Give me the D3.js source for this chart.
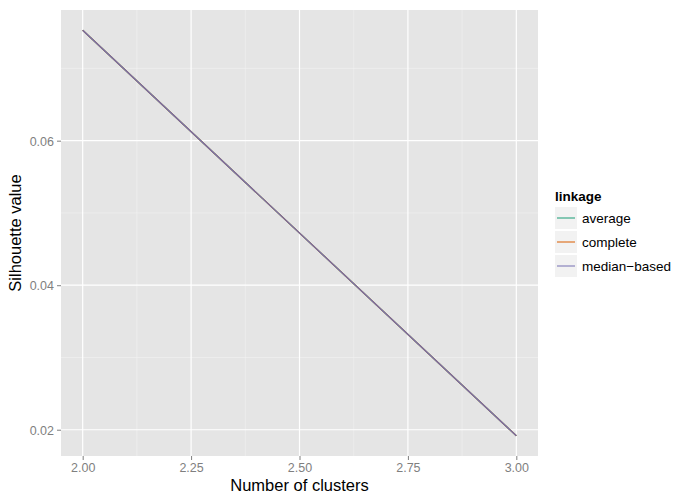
<!DOCTYPE html>
<html>
<head>
<meta charset="utf-8">
<script src="https://cdn.jsdelivr.net/npm/d3@7"></script>
<style>
  body { margin: 0; background: #fff; }
  text { font-family: "Liberation Sans", Arial, sans-serif; }
</style>
</head>
<body>
<svg width="700" height="500"></svg>
<script>
// data
const clusters = [2, 3];
const linkages = ["average", "complete", "median\u2212based"];
const silhouette = {
  "average": [0.07528, 0.01917],
  "complete": [0.07528, 0.01917],
  "median\u2212based": [0.07528, 0.01917]
};
const colors = ["#1B9E77", "#D95F02", "#7570B3"];
const xTicks = [2.00, 2.25, 2.50, 2.75, 3.00];
const yTicks = [0.02, 0.04, 0.06];

const svg = d3.select("svg");
const panel = {left: 61, top: 10, right: 538, bottom: 456};

// ggplot style 5% expansion
const xExt = d3.extent(clusters);
const yAll = linkages.flatMap(k => silhouette[k]);
const yExt = d3.extent(yAll);
const xPad = (xExt[1] - xExt[0]) * 0.05;
const yPad = (yExt[1] - yExt[0]) * 0.05;

const x = d3.scaleLinear().domain([xExt[0] - xPad, xExt[1] + xPad]).range([panel.left, panel.right]);
const y = d3.scaleLinear().domain([yExt[0] - yPad, yExt[1] + yPad]).range([panel.bottom, panel.top]);

// panel background
svg.append("rect")
  .attr("x", panel.left).attr("y", panel.top)
  .attr("width", panel.right - panel.left)
  .attr("height", panel.bottom - panel.top)
  .attr("fill", "#E5E5E5");

// minor grid
const xMinor = d3.range(xTicks.length - 1).map(i => (xTicks[i] + xTicks[i + 1]) / 2);
const yMinor = [0.03, 0.05, 0.07];
let grid = svg.append("g");
grid.selectAll("line.xminor").data(xMinor).enter().append("line")
  .attr("x1", d => x(d)).attr("x2", d => x(d))
  .attr("y1", panel.top).attr("y2", panel.bottom)
  .attr("stroke", "#F2F2F2").attr("stroke-width", 0.6);
grid.selectAll("line.yminor").data(yMinor).enter().append("line")
  .attr("y1", d => y(d)).attr("y2", d => y(d))
  .attr("x1", panel.left).attr("x2", panel.right)
  .attr("stroke", "#F2F2F2").attr("stroke-width", 0.6);
// major grid
grid.selectAll("line.xmajor").data(xTicks).enter().append("line")
  .attr("x1", d => x(d)).attr("x2", d => x(d))
  .attr("y1", panel.top).attr("y2", panel.bottom)
  .attr("stroke", "#fff").attr("stroke-width", 1.2);
grid.selectAll("line.ymajor").data(yTicks).enter().append("line")
  .attr("y1", d => y(d)).attr("y2", d => y(d))
  .attr("x1", panel.left).attr("x2", panel.right)
  .attr("stroke", "#fff").attr("stroke-width", 1.2);

// axes
const xAxis = svg.append("g")
  .attr("transform", `translate(0,${panel.bottom})`)
  .call(d3.axisBottom(x).tickValues(xTicks).tickFormat(d3.format(".2f")).tickSize(4).tickPadding(3));
const yAxis = svg.append("g")
  .attr("transform", `translate(${panel.left},0)`)
  .call(d3.axisLeft(y).tickValues(yTicks).tickFormat(d3.format(".2f")).tickSize(4).tickPadding(3));
[xAxis, yAxis].forEach(a => {
  a.select(".domain").remove();
  a.selectAll(".tick line").attr("stroke", "#7F7F7F");
  a.selectAll(".tick text").attr("fill", "#7F7F7F").style("font-size", "12.5px");
});
yAxis.selectAll(".tick text").attr("dy", "0.35em");

// lines
const line = d3.line()
  .x((d, i) => x(clusters[i]))
  .y(d => y(d));
svg.append("g").selectAll("path")
  .data(linkages).enter().append("path")
  .attr("d", k => line(silhouette[k]))
  .attr("fill", "none")
  .attr("stroke", (k, i) => colors[i])
  .attr("stroke-width", 1.2);

// axis titles
svg.append("text")
  .attr("x", (panel.left + panel.right) / 2).attr("y", 491)
  .attr("text-anchor", "middle")
  .style("font-size", "16.5px")
  .text("Number of clusters");
svg.append("text")
  .attr("transform", `translate(21,${(panel.top + panel.bottom) / 2}) rotate(-90)`)
  .attr("text-anchor", "middle")
  .style("font-size", "16.5px")
  .text("Silhouette value");

// legend
const legend = svg.append("g").attr("transform", "translate(555,0)");
legend.append("text")
  .attr("x", 0).attr("y", 201)
  .style("font-size", "13.5px").style("font-weight", "bold")
  .text("linkage");
const keys = legend.selectAll("g.key").data(linkages).enter().append("g")
  .attr("transform", (d, i) => `translate(0,${207 + i * 24})`);
keys.append("rect")
  .attr("width", 22).attr("height", 22)
  .attr("fill", "#F2F2F2");
keys.append("line")
  .attr("x1", 2).attr("x2", 20)
  .attr("y1", 11).attr("y2", 11)
  .attr("stroke", (d, i) => colors[i]).attr("stroke-width", 1.2)
  .attr("stroke-opacity", 0.85);
keys.append("text")
  .attr("x", 27).attr("y", 11).attr("dy", "0.35em")
  .style("font-size", "13.5px")
  .text(d => d);
</script>
</body>
</html>
